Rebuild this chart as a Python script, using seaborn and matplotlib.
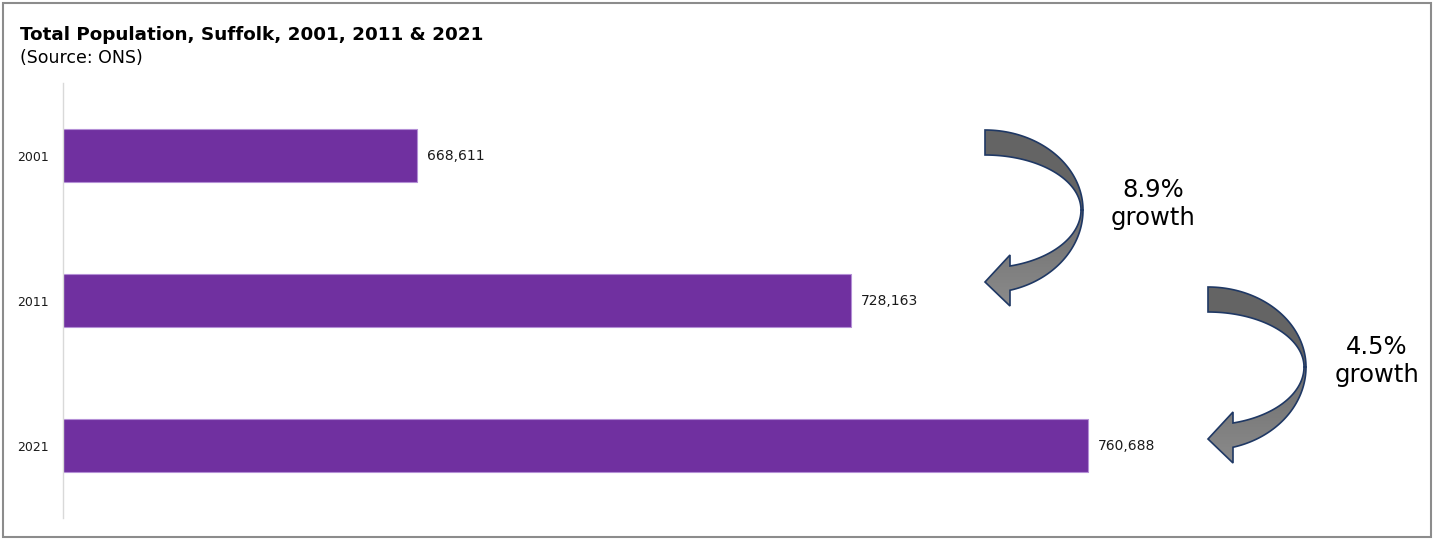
import numpy as np
import matplotlib
matplotlib.use("Agg")
import matplotlib.pyplot as plt
import seaborn as sns
from matplotlib.patches import Polygon, Rectangle

# Data
years = ["2001", "2011", "2021"]
population = [668611, 728163, 760688]

sns.set_style("white")
plt.rcParams['font.family'] = ['DejaVu Sans']

W, H = 1434, 540
fig = plt.figure(figsize=(W / 100, H / 100), dpi=100)
fig.patch.set_facecolor("white")

# Bar chart area (pixel layout from the reference)
ax = fig.add_axes([63 / W, 1 - 518 / H, (1375 - 63) / W, (518 - 83) / H])
sns.barplot(x=population, y=years, orient="h", color="#7030A0", saturation=1,
            width=0.36, edgecolor="#b48fd6", linewidth=0.8, ax=ax)
ax.set_xlim(620000, 800000)
ax.set_xlabel("")
ax.set_ylabel("")
ax.set_xticks([])
for s in ["top", "right", "bottom"]:
    ax.spines[s].set_visible(False)
ax.spines["left"].set_color("#d9d9d9")
ax.spines["left"].set_linewidth(1.0)
ax.tick_params(axis="y", length=0, pad=10.5, labelsize=9, labelcolor="#1a1a1a")
ax.bar_label(ax.containers[0], labels=[f"{v:,}" for v in population],
             padding=7, fontsize=10, color="#1a1a1a")

# Titles
fig.text(20 / W, 1 - 35 / H, "Total Population, Suffolk, 2001, 2011 & 2021",
         fontsize=13.2, fontweight="bold", va="center", ha="left", color="black")
fig.text(20 / W, 1 - 58 / H, "(Source: ONS)", fontsize=12.5, va="center", ha="left",
         color="black")

# Overlay in pixel coordinates for the curved growth arrows
ov = fig.add_axes([0, 0, 1, 1])
ov.set_xlim(0, W)
ov.set_ylim(H, 0)
ov.axis("off")
ov.patch.set_alpha(0)

edge = "#1f3864"


def curved_arrow(cx, cy):
    t = np.linspace(np.pi / 2, 0, 60)
    outer_up = np.column_stack([cx + 98 * np.cos(t), cy - 80 * np.sin(t)])
    inner_up = np.column_stack([cx + 96 * np.cos(t), cy - 55 * np.sin(t)])[::-1]
    upper = np.vstack([outer_up, inner_up])

    a_out = np.arccos(25 / 98)
    a_in = np.arccos(25 / 96)
    t1 = np.linspace(0, -a_out, 60)
    outer_lo = np.column_stack([cx + 98 * np.cos(t1), cy - 83 * np.sin(t1)])
    head = np.array([[cx + 25, cy + 96], [cx, cy + 72], [cx + 25, cy + 45]])
    t2 = np.linspace(-a_in, 0, 60)
    inner_lo = np.column_stack([cx + 96 * np.cos(t2), cy - 58 * np.sin(t2)])
    lower = np.vstack([outer_lo, head, inner_lo])

    p_up = Polygon(upper, closed=True, facecolor="#646464", edgecolor=edge, lw=1.2)
    ov.add_patch(p_up)

    p_lo = Polygon(lower, closed=True, facecolor="none", edgecolor=edge, lw=1.2, zorder=3)
    ov.add_patch(p_lo)
    grad = np.linspace(0, 1, 100).reshape(-1, 1)
    cmap = matplotlib.colors.LinearSegmentedColormap.from_list("g", ["#6c6c6c", "#8c8c8c"])
    im = ov.imshow(grad, cmap=cmap, aspect="auto",
                   extent=[cx - 5, cx + 100, cy + 100, cy - 5], zorder=2)
    im.set_clip_path(p_lo)


curved_arrow(985, 210)
curved_arrow(1208, 367)
ov.set_xlim(0, W)
ov.set_ylim(H, 0)

g1 = (population[1] / population[0] - 1) * 100
g2 = (population[2] / population[1] - 1) * 100
ov.text(1153, 204, f"{g1:.1f}%\ngrowth", ha="center", va="center", fontsize=17.5,
        linespacing=1.2, color="black")
ov.text(1377, 361, f"{g2:.1f}%\ngrowth", ha="center", va="center", fontsize=17.5,
        linespacing=1.2, color="black")

# Outer border
fig.patches.append(Rectangle((3 / W, 3 / H), (W - 6) / W, (H - 6) / H, transform=fig.transFigure,
                             fill=False, edgecolor="#8c8c8c", lw=1.5))

fig.savefig("out.png", dpi=100)
